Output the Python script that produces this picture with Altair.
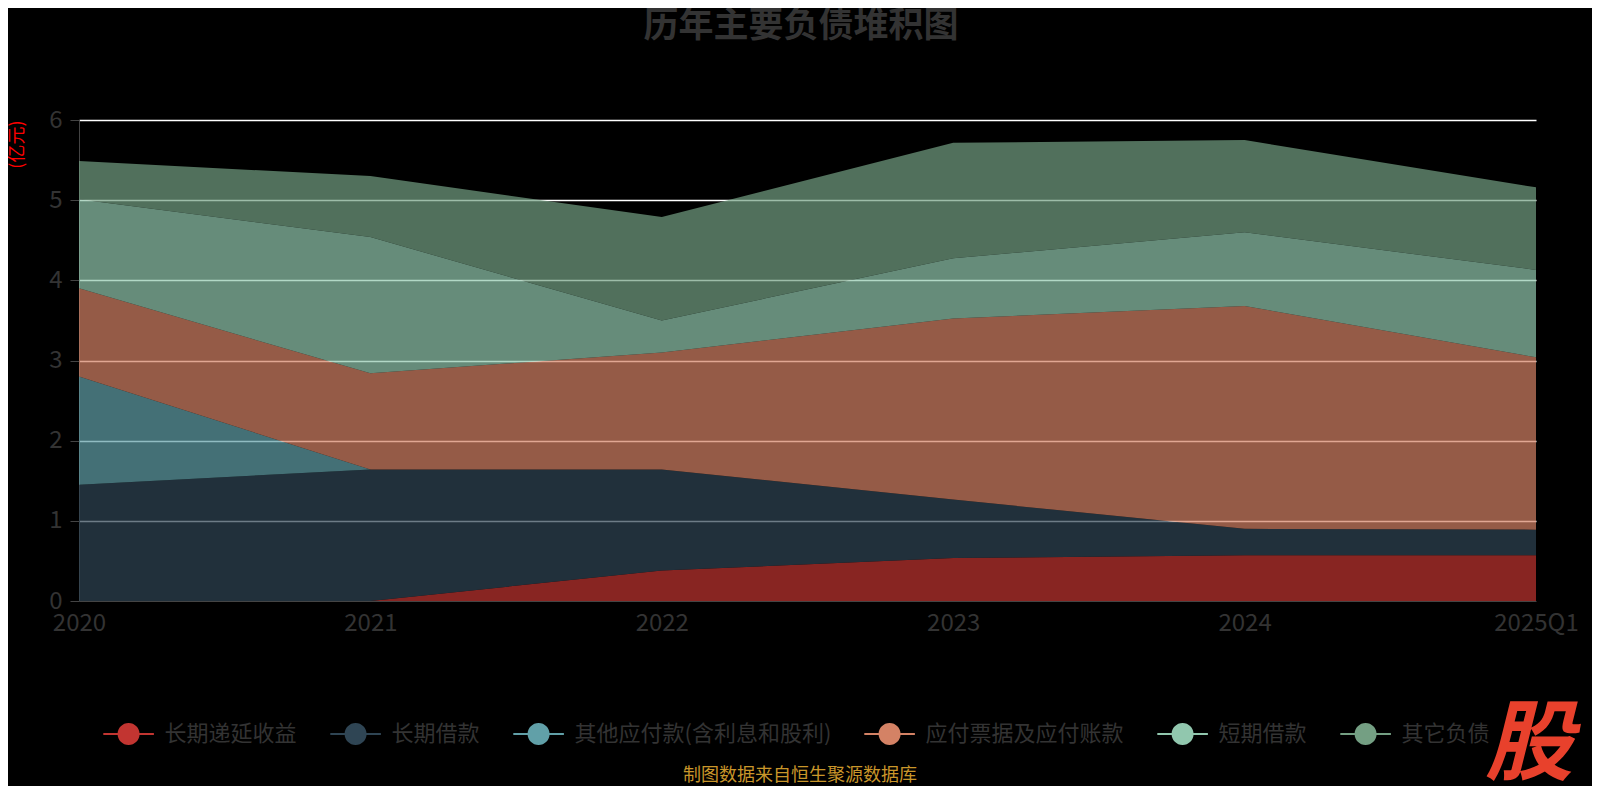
import altair as alt
import pandas as pd

years = ["2020", "2021", "2022", "2023", "2024", "2025Q1"]
series_names = ["长期递延收益", "长期借款", "其他应付款(含利息和股利)", "应付票据及应付账款", "短期借款", "其它负债"]
series_colors = ["#c23531", "#2f4554", "#61a0a8", "#d48265", "#91c7ae", "#749f83"]

v_deferred = [0.0, 0.0, 0.38, 0.535, 0.57, 0.57]
v_longloan = [1.45, 1.64, 1.26, 0.73, 0.33, 0.32]
v_otherpay = [1.35, 0.0, 0.0, 0.0, 0.0, 0.0]
v_payable = [1.10, 1.20, 1.46, 2.26, 2.78, 2.15]
v_shortloan = [1.11, 1.70, 0.40, 0.75, 0.92, 1.09]
v_other = [0.48, 0.76, 1.29, 1.44, 1.15, 1.03]

y_ticks = [0, 1, 2, 3, 4, 5, 6]
title_text = "历年主要负债堆积图"
y_title = "(亿元)"
footnote = "制图数据来自恒生聚源数据库"
watermark = "股"

all_values = [v_deferred, v_longloan, v_otherpay, v_payable, v_shortloan, v_other]
rows = []
for i, (name, vals) in enumerate(zip(series_names, all_values)):
    for y, v in zip(years, vals):
        rows.append({"year": y, "series": name, "value": v, "idx": i})
df = pd.DataFrame(rows)

FONT = "Noto Sans CJK SC"
sym_path = ("M-2.3,-0.09L2.3,-0.09L2.3,0.09L-2.3,0.09Z"
            "M1,0A1,1 0 1,1 -1,0A1,1 0 1,1 1,0Z")

area = alt.Chart(df).mark_area(opacity=0.7).encode(
    x=alt.X("year:N", sort=years, scale=alt.Scale(type="point", padding=0),
            axis=alt.Axis(labelAngle=0, labelFontSize=24, labelColor="#333333",
                          labelFont=FONT, ticks=False, domainColor="#444444",
                          grid=False, labelPadding=10, title=None, zindex=1)),
    y=alt.Y("value:Q", stack="zero", scale=alt.Scale(domain=[0, 6], nice=False),
            axis=alt.Axis(values=y_ticks, labelFontSize=24, labelColor="#333333",
                          labelFont=FONT, tickColor="#444444", tickSize=9,
                          domainColor="#444444", gridColor="#ffffff", gridWidth=1.5,
                          gridOpacity={"condition": {"test": "datum.value === 0", "value": 0}, "value": 1},
                          labelPadding=8, title=y_title, titleColor="#ff0000",
                          titleFontSize=18, titleFontWeight="normal", titleFont=FONT,
                          titleAngle=270, titleX=-62, titleY=0, titleAlign="right",
                          titleBaseline="middle")),
    color=alt.Color("series:N", scale=alt.Scale(domain=series_names, range=series_colors),
                    legend=alt.Legend(orient="none", legendX=38.6, legendY=603,
                                      direction="horizontal", title=None,
                                      symbolType=sym_path, symbolSize=484,
                                      symbolOpacity=1, symbolStrokeWidth=0,
                                      labelFontSize=22, labelColor="#333333",
                                      labelFont=FONT, labelOffset=25,
                                      columnPadding=32, padding=0, labelLimit=400)),
    order=alt.Order("idx:Q", sort="ascending"),
)

ttl = alt.Chart(pd.DataFrame({"t": [title_text]})).mark_text(
    font=FONT, fontSize=35, fontWeight="bold", color="#333333",
    align="center", baseline="middle"
).encode(x=alt.value(722), y=alt.value(-94), text="t:N")

foot = alt.Chart(pd.DataFrame({"t": [footnote]})).mark_text(
    font=FONT, fontSize=18, color="#c9962a", align="center", baseline="middle"
).encode(x=alt.value(721), y=alt.value(656), text="t:N")

wm = alt.Chart(pd.DataFrame({"t": [watermark]})).mark_text(
    font=FONT, fontSize=88, fontWeight="bold", fontStyle="italic",
    color="#e8412c", align="center", baseline="middle"
).encode(x=alt.value(1450), y=alt.value(627), text="t:N")

chart = alt.layer(area, ttl, foot, wm).properties(
    width=1457, height=481,
    padding={"left": 71, "top": 112, "right": 56, "bottom": 185},
    autosize="none",
    background="#000000",
).configure_view(stroke=None)

chart.save("out.html", embed_options={"renderer": "svg", "actions": False})
